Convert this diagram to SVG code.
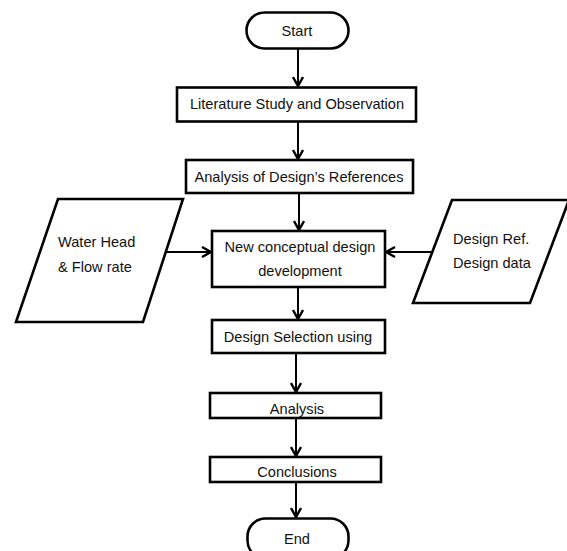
<svg xmlns="http://www.w3.org/2000/svg" width="567" height="551" viewBox="0 0 567 551">
<style>
.box{fill:#fff;stroke:#000;stroke-width:2.6}
.ln{stroke:#000;stroke-width:2;fill:none}
.t{font-family:"Liberation Sans",Arial,sans-serif;font-size:14.6px;fill:#111;text-anchor:middle;dominant-baseline:central}
.tl{text-anchor:start}
</style>
<defs>
<marker id="ah" viewBox="0 0 12 12" refX="11" refY="6" markerWidth="12" markerHeight="12" markerUnits="userSpaceOnUse" orient="auto">
<path d="M2,1 L11,6 L2,11" fill="none" stroke="#000" stroke-width="2.4"/>
</marker>
</defs>
<rect width="567" height="551" fill="#fff"/>
<g id="connectors">
<line class="ln" x1="298" y1="49" x2="298" y2="86" marker-end="url(#ah)"/>
<line class="ln" x1="298" y1="122" x2="298" y2="159" marker-end="url(#ah)"/>
<line class="ln" x1="299" y1="194" x2="299" y2="230" marker-end="url(#ah)"/>
<line class="ln" x1="298" y1="288" x2="298" y2="319" marker-end="url(#ah)"/>
<line class="ln" x1="296" y1="354" x2="296" y2="392" marker-end="url(#ah)"/>
<line class="ln" x1="296" y1="419" x2="296" y2="456" marker-end="url(#ah)"/>
<line class="ln" x1="296" y1="483" x2="296" y2="517" marker-end="url(#ah)"/>
<line class="ln" x1="166" y1="252" x2="211" y2="252" marker-end="url(#ah)"/>
<line class="ln" x1="432" y1="252" x2="386" y2="252" marker-end="url(#ah)"/>
</g>
<g id="start">
<rect class="box" x="246.5" y="12.5" width="102" height="36" rx="18"/>
<text class="t" x="297" y="31">Start</text>
</g>
<g id="literature">
<rect class="box" x="177" y="87.5" width="239" height="34"/>
<text class="t" x="297" y="104">Literature Study and Observation</text>
</g>
<g id="analysis-refs">
<rect class="box" x="186" y="160" width="227" height="33"/>
<text class="t" x="299" y="177">Analysis of Design’s References</text>
</g>
<g id="water-head">
<polygon class="box" points="58,199 183,199 143,322 16,322"/>
<text class="t tl" x="58" y="242">Water Head</text>
<text class="t tl" x="58" y="267">&amp; Flow rate</text>
</g>
<g id="new-concept">
<rect class="box" x="212" y="231" width="173" height="56"/>
<text class="t" x="300" y="247">New conceptual design</text>
<text class="t" x="300" y="271">development</text>
</g>
<g id="design-ref">
<polygon class="box" points="452,200 569,200 530,303 413,303"/>
<text class="t tl" x="453" y="239">Design Ref.</text>
<text class="t tl" x="453" y="263">Design data</text>
</g>
<g id="selection">
<rect class="box" x="212" y="320" width="173" height="33"/>
<text class="t" x="298" y="337">Design Selection using</text>
</g>
<g id="analysis">
<rect class="box" x="210" y="393" width="171" height="25"/>
<text class="t" x="297" y="409">Analysis</text>
</g>
<g id="conclusions">
<rect class="box" x="210" y="457" width="171" height="25"/>
<text class="t" x="297" y="472">Conclusions</text>
</g>
<g id="end">
<rect class="box" x="247.5" y="518.5" width="101" height="40" rx="18"/>
<text class="t" x="297" y="539">End</text>
</g>
</svg>
